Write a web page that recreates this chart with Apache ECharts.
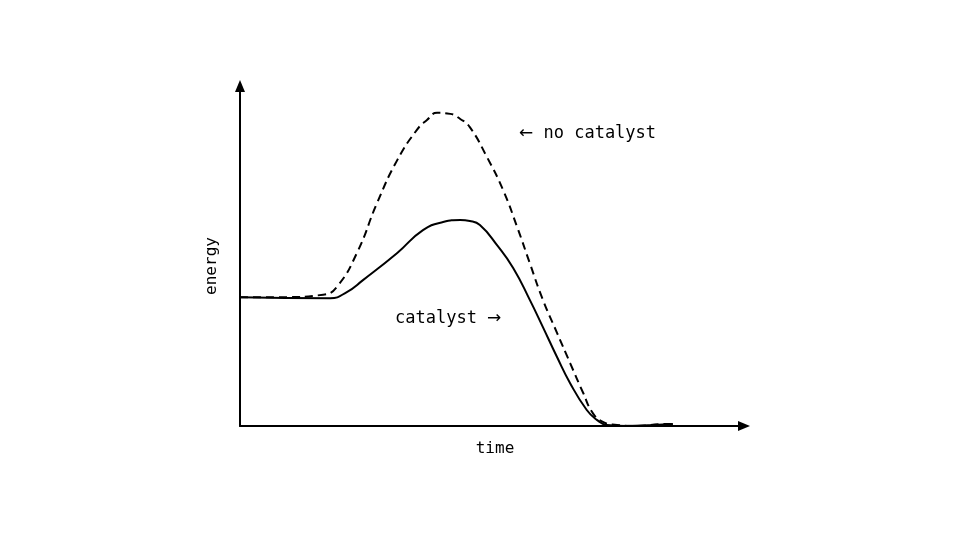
<!DOCTYPE html>
<html>
<head>
<meta charset="utf-8">
<script src="https://cdn.jsdelivr.net/npm/echarts@6/dist/echarts.min.js"></script>
<style>html,body{margin:0;padding:0;background:#fff}#c{width:960px;height:540px}</style>
</head>
<body>
<div id="c"></div>
<script>
// Reaction energy profile (arbitrary units: time 0-100, energy 0-100)
const noCatalyst = [[0,37.9],[7.9,37.9],[16.5,38.6],[19.2,40.9],[23.2,50.9],[27.2,65.6],[31.2,78.2],[35.1,87.1],[37.1,90.0],[39.1,92.1],[41.7,91.8],[43.7,90.3],[45.6,87.9],[49.0,79.1],[52.2,69.4],[55.0,58.5],[57.5,47.9],[60.1,37.1],[62.9,27.4],[65.5,18.5],[68.1,9.7],[70.0,3.8],[72.0,1.2],[74.8,0.3],[78.0,0],[84.7,0.6],[85.7,0.6]];
const withCatalyst = [[0,37.9],[17.9,37.6],[21.2,39.4],[24.4,42.9],[31.2,50.9],[36.3,57.6],[40.3,60.0],[43.7,60.6],[45.6,60.3],[47.6,59.1],[51.0,53.2],[54.2,46.5],[57.5,37.1],[60.1,29.1],[62.9,20.3],[65.5,12.6],[68.8,4.7],[70.8,1.8],[72.8,0.3],[76.8,0],[81.9,0.3],[85.9,0.6]];
const seriesNames = ['no catalyst', 'catalyst'];
const axisNames = ['time', 'energy'];

const FONT = '"DejaVu Sans Mono", monospace';
const ARROWFONT = '17px "DejaVu Sans", sans-serif';
const chart = echarts.init(document.getElementById('c'));
const axisCommon = {
  type: 'value', min: 0, max: 100,
  axisLine: {show: true, symbol: ['none', 'triangle'], symbolSize: [10, 12], symbolOffset: [0, 0],
             lineStyle: {color: '#000', width: 2}},
  axisTick: {show: false}, axisLabel: {show: false}, splitLine: {show: false},
  nameLocation: 'middle'
};
chart.setOption({
  animation: false,
  backgroundColor: '#fff',
  grid: {left: 240, right: 216, top: 86, bottom: 114},
  xAxis: Object.assign({}, axisCommon, {name: axisNames[0], nameGap: 15,
    nameTextStyle: {fontFamily: FONT, fontSize: 16, color: '#000', padding: [0, 0, 0, 6]}}),
  yAxis: Object.assign({}, axisCommon, {name: axisNames[1], nameGap: 20,
    nameTextStyle: {fontFamily: FONT, fontSize: 16, color: '#000', padding: [0, 20, 0, 0]}}),
  series: [
    {name: seriesNames[0], type: 'line', data: noCatalyst, smooth: 0.5, showSymbol: false, clip: false,
     lineStyle: {color: '#000', width: 2, type: [8, 5]}},
    {name: seriesNames[1], type: 'line', data: withCatalyst, smooth: 0.5, showSymbol: false, clip: false,
     lineStyle: {color: '#000', width: 2}}
  ],
  graphic: [
    {type: 'text', x: 519, y: 134, style: {text: '{a|\u2190} ' + seriesNames[0], font: '17px ' + FONT, fill: '#000',
      verticalAlign: 'middle', rich: {a: {font: ARROWFONT, fill: '#000'}}}},
    {type: 'text', x: 395, y: 319, style: {text: seriesNames[1] + ' {a|\u2192}', font: '17px ' + FONT, fill: '#000',
      verticalAlign: 'middle', rich: {a: {font: ARROWFONT, fill: '#000'}}}}
  ]
});
</script>
</body>
</html>
